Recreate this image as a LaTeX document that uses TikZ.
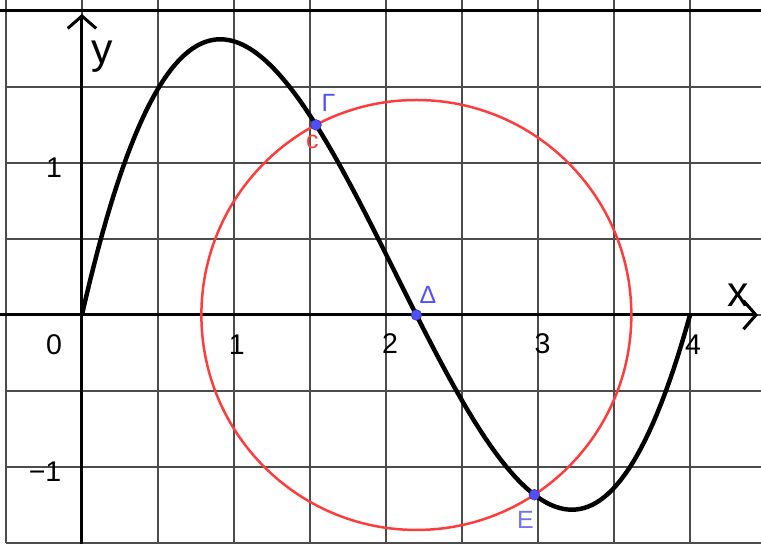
\documentclass[tikz,border=0pt]{standalone}
\usepackage{fontspec}
\setmainfont{Liberation Sans}
\usetikzlibrary{arrows.meta}
\definecolor{diemxanh}{RGB}{80,80,255}
\definecolor{nhanE}{RGB}{115,115,245}
\definecolor{duongdo}{RGB}{255,60,60}

\begin{document}
\begin{tikzpicture}[x=3cm, y=3cm, >={Straight Barb[length=7pt,width=16pt]},
    truc/.style={line width=1.7pt},
    so/.style={font=\fontsize{16}{18}\selectfont},
    chu/.style={font=\fontsize{24}{26}\selectfont},
    nhan/.style={font=\fontsize{14}{16}\selectfont, text=diemxanh},
    diem/.style={circle, fill=diemxanh, draw=diemxanh!60!black, line width=0.3pt, inner sep=0pt, minimum size=6pt}]
    % Khung hình
    \useasboundingbox (-0.539,-1.5) rectangle (4.467,2.072);
    \clip (-0.539,-1.5) rectangle (4.467,2.072);

    % 1. Lưới ô vuông
    \draw[black!70, line width=1.1pt, step=0.5] (-0.5,-1.5) grid (4.5,2.5);
    \draw[truc] (-0.6,2) -- (4.6,2);

    % 2. Hệ trục tọa độ
    \draw[->, truc] (-0.6,0) -- (4.447,0);
    \draw[->, truc] (0,-1.6) -- (0,1.98);
    \node[chu] (lx) at (4.316,0.13) {x};
    \node[chu] (ly) at (0.13,1.70) {y};
    \node[so] (o) at (-0.184,-0.197) {0};
    \node[so] (x1) at (1.018,-0.197) {1};
    \node[so] (x2) at (2.026,-0.19) {2};
    \node[so] (x3) at (3.03,-0.19) {3};
    \node[so] (x4) at (4.02,-0.197) {4};
    \node[so] (y1) at (-0.184,0.97) {1};
    \node[so] (ym1) at (-0.243,-1.03) {−1};

    % 3. Đồ thị hàm bậc ba
    \draw[line width=2.5pt, black, domain=0:4, samples=150]
        plot (\x, {0.5*\x*(\x-2.2)*(\x-4)});

    % 4. Đường tròn tâm Δ bán kính căn 2
    \coordinate (D) at (2.2,0);
    \coordinate (G) at (1.54,1.2504);
    \coordinate (E) at (2.976,-1.1824);
    \draw[duongdo, line width=1.4pt] (D) circle[radius=1.41421];

    % 5. Các điểm và nhãn
    \node[diem] (pG) at (G) {};
    \node[diem] (pD) at (D) {};
    \node[diem] (pE) at (E) {};
    \node[nhan] (lG) at (1.622,1.398) {Γ};
    \node[nhan] (lD) at (2.276,0.135) {Δ};
    \node[nhan, text=nhanE] (lE) at (2.918,-1.345) {Ε};
    \node[font=\fontsize{14}{16}\selectfont, text=duongdo] (lc) at (1.516,1.138) {c};
\end{tikzpicture}
\end{document}
